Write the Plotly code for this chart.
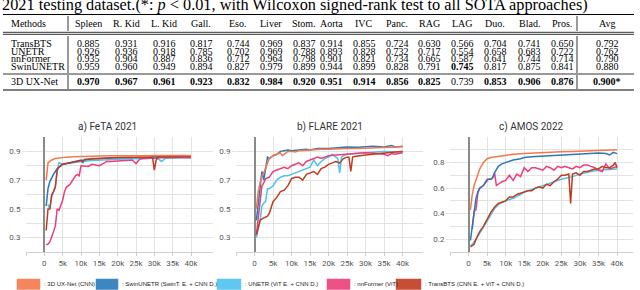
import plotly.graph_objects as go

W, H = 640, 290

# ---------------- table data ----------------
methods = ["TransBTS", "UNETR", "nnFormer", "SwinUNETR", "3D UX-Net"]
columns = ["Spleen", "R. Kid", "L. Kid", "Gall.", "Eso.", "Liver", "Stom.", "Aorta",
           "IVC", "Panc.", "RAG", "LAG", "Duo.", "Blad.", "Pros.", "Avg"]
vals_transbts = [0.885, 0.931, 0.916, 0.817, 0.744, 0.969, 0.837, 0.914, 0.855, 0.724, 0.630, 0.566, 0.704, 0.741, 0.650, 0.792]
vals_unetr = [0.926, 0.936, 0.918, 0.785, 0.702, 0.969, 0.788, 0.893, 0.828, 0.732, 0.717, 0.554, 0.658, 0.683, 0.722, 0.762]
vals_nnformer = [0.935, 0.904, 0.887, 0.836, 0.712, 0.964, 0.798, 0.901, 0.821, 0.734, 0.665, 0.587, 0.641, 0.744, 0.714, 0.790]
vals_swinunetr = [0.959, 0.960, 0.949, 0.894, 0.827, 0.979, 0.899, 0.944, 0.899, 0.828, 0.791, 0.745, 0.817, 0.875, 0.841, 0.880]
vals_uxnet = [0.970, 0.967, 0.961, 0.923, 0.832, 0.984, 0.920, 0.951, 0.914, 0.856, 0.825, 0.739, 0.853, 0.906, 0.876, 0.900]
title_text = "2021 testing dataset.(*: <i>p</i> &lt; 0.01, with Wilcoxon signed-rank test to all SOTA approaches)"

# ---------------- curve data ----------------
colors = {"uxnet": "#F5784C", "swin": "#2A79B9", "unetr": "#4DC3F0", "nnf": "#EC3F79", "trans": "#C23B20"}
chart_titles = ["a) FeTA 2021", "b) FLARE 2021", "c) AMOS 2022"]
xtick_vals = [-5000, 0, 5000, 10000, 15000, 20000, 25000, 30000, 35000, 40000]
xtick_text = ["", "0", "5k", "10k", "15k", "20k", "25k", "30k", "35k", "40k"]

# FeTA
feta_uxnet_x = [500, 1000, 1500, 2000, 3000, 4000, 5000, 6000, 8000, 10000, 12000, 15000, 18000, 20000, 22000, 25000, 28000, 30000, 33000, 35000, 38000, 40000]
feta_uxnet_y = [0.70, 0.82, 0.83, 0.84, 0.85, 0.855, 0.86, 0.86, 0.862, 0.865, 0.866, 0.868, 0.87, 0.869, 0.87, 0.871, 0.87, 0.872, 0.871, 0.872, 0.871, 0.872]
feta_swin_x = [500, 1000, 1500, 2000, 2500, 3000, 3500, 4000, 5000, 6000, 7000, 8000, 9000, 10000, 10500, 11000, 12000, 13000, 15000, 17000, 20000, 22000, 25000, 28000, 30000, 33000, 35000, 38000, 40000]
feta_swin_y = [0.52, 0.64, 0.69, 0.72, 0.74, 0.76, 0.78, 0.79, 0.81, 0.815, 0.82, 0.83, 0.835, 0.84, 0.82, 0.845, 0.845, 0.85, 0.85, 0.855, 0.858, 0.855, 0.86, 0.86, 0.862, 0.863, 0.862, 0.865, 0.865]
feta_unetr_x = [1000, 1500, 2000, 2500, 3000, 3500, 4000, 5000, 6000, 8000, 10000, 12000, 15000, 18000, 20000, 23000, 25000, 28000, 30000, 31000, 32000, 33000, 35000, 38000, 40000]
feta_unetr_y = [0.53, 0.50, 0.58, 0.62, 0.66, 0.76, 0.82, 0.81, 0.815, 0.82, 0.83, 0.835, 0.84, 0.842, 0.845, 0.848, 0.85, 0.852, 0.853, 0.85, 0.83, 0.852, 0.855, 0.856, 0.855]
feta_nnf_x = [500, 1000, 1500, 2000, 2500, 3000, 3500, 4000, 4500, 5000, 5500, 6000, 7000, 8000, 8500, 9000, 9500, 10000, 11000, 12000, 13000, 14000, 15000, 16000, 17000, 18000, 20000, 22000, 24000, 25000, 26000, 27000, 30000, 33000, 35000, 38000, 40000]
feta_nnf_y = [0.25, 0.255, 0.27, 0.30, 0.34, 0.38, 0.50, 0.49, 0.52, 0.56, 0.62, 0.65, 0.67, 0.71, 0.73, 0.74, 0.73, 0.80, 0.80, 0.795, 0.81, 0.805, 0.80, 0.815, 0.83, 0.83, 0.835, 0.84, 0.84, 0.815, 0.845, 0.85, 0.855, 0.86, 0.86, 0.858, 0.855]
feta_trans_x = [500, 1000, 1500, 2000, 2500, 3000, 3500, 4000, 5000, 6000, 8000, 10000, 12000, 15000, 18000, 20000, 22000, 25000, 28000, 29500, 30000, 30500, 31000, 33000, 35000, 38000, 40000]
feta_trans_y = [0.35, 0.50, 0.50, 0.60, 0.62, 0.65, 0.77, 0.79, 0.81, 0.815, 0.83, 0.84, 0.845, 0.85, 0.855, 0.858, 0.86, 0.86, 0.862, 0.86, 0.77, 0.84, 0.862, 0.864, 0.865, 0.866, 0.866]

# FLARE
flare_uxnet_x = [500, 1000, 1500, 2000, 2500, 3000, 3500, 4000, 5000, 6000, 7000, 7500, 8000, 9000, 10000, 11000, 12000, 14000, 16000, 18000, 20000, 22000, 25000, 28000, 30000, 33000, 35000, 38000, 40000]
flare_uxnet_y = [0.50, 0.62, 0.68, 0.73, 0.75, 0.79, 0.82, 0.85, 0.87, 0.88, 0.89, 0.87, 0.88, 0.90, 0.90, 0.895, 0.905, 0.91, 0.91, 0.915, 0.915, 0.918, 0.92, 0.92, 0.922, 0.925, 0.928, 0.93, 0.932]
flare_swin_x = [500, 1000, 1500, 2000, 2500, 3000, 3500, 4000, 5000, 6000, 7000, 8000, 9000, 10000, 12000, 14000, 15000, 17000, 20000, 23000, 25000, 28000, 30000, 32000, 35000, 37000, 38000, 40000]
flare_swin_y = [0.42, 0.54, 0.66, 0.76, 0.70, 0.80, 0.86, 0.85, 0.87, 0.88, 0.90, 0.905, 0.91, 0.905, 0.91, 0.915, 0.91, 0.92, 0.92, 0.925, 0.93, 0.928, 0.93, 0.935, 0.93, 0.94, 0.93, 0.935]
flare_unetr_x = [500, 1000, 1500, 2000, 2500, 3000, 3500, 4000, 5000, 6000, 7000, 8000, 9000, 10000, 11000, 12000, 13000, 14000, 15000, 16000, 17000, 18000, 19000, 20000, 21000, 22000, 22500, 23000, 23500, 24000, 25000, 27000, 30000, 33000, 35000, 38000, 40000]
flare_unetr_y = [0.30, 0.36, 0.42, 0.52, 0.54, 0.55, 0.64, 0.64, 0.66, 0.70, 0.72, 0.73, 0.73, 0.74, 0.75, 0.76, 0.77, 0.78, 0.79, 0.84, 0.80, 0.83, 0.85, 0.86, 0.88, 0.86, 0.85, 0.75, 0.86, 0.87, 0.88, 0.885, 0.89, 0.895, 0.90, 0.895, 0.90]
flare_nnf_x = [500, 1000, 1500, 2000, 2500, 3000, 4000, 5000, 6000, 7000, 8000, 9000, 10000, 11000, 12000, 13000, 14000, 15000, 16000, 17000, 18000, 20000, 22000, 25000, 28000, 30000, 33000, 35000, 36000, 37000, 38000, 40000]
flare_nnf_y = [0.32, 0.44, 0.58, 0.66, 0.68, 0.71, 0.72, 0.76, 0.77, 0.78, 0.79, 0.78, 0.80, 0.81, 0.82, 0.80, 0.83, 0.84, 0.85, 0.86, 0.85, 0.87, 0.875, 0.88, 0.885, 0.89, 0.885, 0.88, 0.87, 0.885, 0.88, 0.89]
flare_trans_x = [500, 1000, 1500, 2000, 3000, 3500, 4000, 5000, 6000, 7000, 8000, 9000, 10000, 11000, 12000, 13000, 14000, 15000, 16000, 17000, 18000, 19000, 20000, 21000, 22000, 23000, 24000, 25000, 25500, 26000, 26500, 27000, 28000, 30000, 32000, 35000, 38000, 40000]
flare_trans_y = [0.32, 0.38, 0.42, 0.43, 0.44, 0.45, 0.47, 0.55, 0.58, 0.62, 0.63, 0.66, 0.71, 0.72, 0.72, 0.70, 0.74, 0.75, 0.76, 0.74, 0.78, 0.79, 0.81, 0.82, 0.83, 0.82, 0.85, 0.86, 0.86, 0.76, 0.86, 0.865, 0.87, 0.875, 0.88, 0.89, 0.895, 0.90]

# AMOS
amos_uxnet_x = [500, 1000, 1500, 2000, 3000, 4000, 5000, 6000, 7000, 8000, 9000, 10000, 12000, 15000, 18000, 20000, 23000, 25000, 28000, 30000, 33000, 35000, 38000, 40000]
amos_uxnet_y = [0.43, 0.55, 0.62, 0.67, 0.75, 0.80, 0.83, 0.84, 0.845, 0.85, 0.85, 0.86, 0.865, 0.87, 0.875, 0.88, 0.882, 0.885, 0.887, 0.89, 0.893, 0.895, 0.897, 0.90]
amos_swin_x = [500, 1000, 1500, 2000, 2500, 3000, 3500, 4000, 5000, 5500, 6000, 6500, 7000, 8000, 9000, 10000, 11000, 12000, 14000, 15000, 17000, 20000, 23000, 25000, 28000, 30000, 33000, 35000, 37000, 38000, 39000, 40000]
amos_swin_y = [0.19, 0.30, 0.42, 0.52, 0.57, 0.60, 0.61, 0.62, 0.66, 0.67, 0.67, 0.68, 0.72, 0.77, 0.79, 0.80, 0.81, 0.82, 0.83, 0.84, 0.845, 0.85, 0.855, 0.86, 0.865, 0.87, 0.872, 0.875, 0.87, 0.86, 0.88, 0.87]
amos_unetr_x = [500, 1000, 2000, 3000, 4000, 5000, 6000, 7000, 8000, 9000, 10000, 12000, 14000, 15000, 17000, 20000, 22000, 25000, 28000, 30000, 33000, 35000, 38000, 40000]
amos_unetr_y = [0.15, 0.16, 0.20, 0.25, 0.30, 0.34, 0.39, 0.44, 0.47, 0.49, 0.50, 0.52, 0.55, 0.57, 0.59, 0.62, 0.64, 0.67, 0.69, 0.71, 0.73, 0.74, 0.745, 0.75]
amos_nnf_x = [1000, 1500, 2000, 2500, 3000, 4000, 5000, 6000, 6500, 7000, 7500, 8000, 9000, 10000, 11000, 12000, 13000, 14000, 15000, 16000, 17000, 18000, 19000, 20000, 21000, 22000, 23000, 24000, 25000, 26000, 27000, 28000, 29000, 30000, 31000, 32000, 33000, 34000, 35000, 36000, 37000, 38000, 39000, 40000]
amos_nnf_y = [0.28, 0.42, 0.43, 0.56, 0.60, 0.62, 0.67, 0.67, 0.68, 0.72, 0.62, 0.63, 0.65, 0.66, 0.70, 0.66, 0.71, 0.69, 0.76, 0.73, 0.76, 0.76, 0.75, 0.74, 0.77, 0.76, 0.74, 0.77, 0.76, 0.77, 0.76, 0.75, 0.77, 0.76, 0.78, 0.78, 0.77, 0.76, 0.74, 0.73, 0.79, 0.75, 0.76, 0.77]
amos_trans_x = [500, 1000, 1500, 2000, 3000, 4000, 5000, 6000, 7000, 8000, 9000, 10000, 11000, 12000, 13000, 14000, 15000, 16000, 17000, 18000, 19000, 20000, 21000, 22000, 23000, 24000, 25000, 26000, 27000, 27500, 28000, 29000, 30000, 31000, 32000, 33000, 34000, 35000, 36000, 37000, 38000, 39000, 39500, 40000]
amos_trans_y = [0.14, 0.15, 0.16, 0.20, 0.26, 0.30, 0.36, 0.41, 0.45, 0.48, 0.49, 0.50, 0.53, 0.53, 0.55, 0.56, 0.57, 0.58, 0.58, 0.60, 0.61, 0.60, 0.63, 0.62, 0.65, 0.67, 0.70, 0.70, 0.71, 0.48, 0.71, 0.72, 0.70, 0.73, 0.73, 0.74, 0.75, 0.75, 0.77, 0.76, 0.76, 0.78, 0.80, 0.76]

legend_labels = [": 3D UX-Net (CNN)", ": SwinUNETR (SwinT. E. + CNN D.)", ": UNETR (ViT E. + CNN D.)",
                 ": nnFormer (ViT)", ": TransBTS (CNN E. + ViT + CNN D.)"]
legend_keys = ["uxnet", "swin", "unetr", "nnf", "trans"]


def px(x):
    return x / W


def py(y):
    return 1 - y / H


fig = go.Figure()
annotations = []
shapes = []

# ---------------- title + table ----------------
annotations.append(dict(x=px(0), y=py(4), xref="paper", yref="paper", xanchor="left", yanchor="middle",
                        text=title_text, showarrow=False,
                        font=dict(family="Liberation Serif", size=16.3, color="black")))

rule_l, rule_r = 3, 634
for yy, wdt in [(14.5, 1.0), (32.3, 0.8), (34.3, 0.8), (74, 0.8), (90, 1.0)]:
    shapes.append(dict(type="line", xref="paper", yref="paper", x0=px(rule_l), x1=px(rule_r),
                       y0=py(yy), y1=py(yy), line=dict(color="black", width=wdt)))
for sx in [68, 577]:
    for (a, b) in [(16, 31), (36, 73), (75, 89)]:
        shapes.append(dict(type="line", xref="paper", yref="paper", x0=px(sx), x1=px(sx),
                           y0=py(a), y1=py(b), line=dict(color="black", width=0.8)))

col_x = [88, 126, 164, 201, 238, 271, 304, 331, 364, 397, 429, 462, 495, 529, 562, 607]
row_y = [43.3, 51.0, 58.7, 66.5, 81.7]
header_y = 24
tfont = dict(family="Liberation Serif", size=10, color="black")
annotations.append(dict(x=px(9), y=py(header_y), xref="paper", yref="paper", xanchor="left", yanchor="middle",
                        text="Methods", showarrow=False, font=tfont))
for cx, c in zip(col_x, columns):
    annotations.append(dict(x=px(cx), y=py(header_y), xref="paper", yref="paper", xanchor="center",
                            yanchor="middle", text=c, showarrow=False, font=tfont))
rows = [vals_transbts, vals_unetr, vals_nnformer, vals_swinunetr, vals_uxnet]
col_max = [max(r[j] for r in rows) for j in range(len(columns))]
for i, (m, r) in enumerate(zip(methods, rows)):
    annotations.append(dict(x=px(9), y=py(row_y[i]), xref="paper", yref="paper", xanchor="left",
                            yanchor="middle", text=m, showarrow=False, font=tfont))
    for j, v in enumerate(r):
        s = f"{v:.3f}"
        if m == "3D UX-Net" and columns[j] == "Avg":
            s += "*"
        if v == col_max[j]:
            s = "<b>" + s + "</b>"
        annotations.append(dict(x=px(col_x[j]), y=py(row_y[i]), xref="paper", yref="paper",
                                xanchor="center", yanchor="middle", text=s, showarrow=False, font=tfont))

# ---------------- charts ----------------
chart_data = [
    {"uxnet": (feta_uxnet_x, feta_uxnet_y), "swin": (feta_swin_x, feta_swin_y), "unetr": (feta_unetr_x, feta_unetr_y),
     "nnf": (feta_nnf_x, feta_nnf_y), "trans": (feta_trans_x, feta_trans_y)},
    {"uxnet": (flare_uxnet_x, flare_uxnet_y), "swin": (flare_swin_x, flare_swin_y), "unetr": (flare_unetr_x, flare_unetr_y),
     "nnf": (flare_nnf_x, flare_nnf_y), "trans": (flare_trans_x, flare_trans_y)},
    {"uxnet": (amos_uxnet_x, amos_uxnet_y), "swin": (amos_swin_x, amos_swin_y), "unetr": (amos_unetr_x, amos_unetr_y),
     "nnf": (amos_nnf_x, amos_nnf_y), "trans": (amos_trans_x, amos_trans_y)},
]
draw_order = ["unetr", "nnf", "swin", "trans", "uxnet"]
x_domains = [(26, 213), (236, 423), (450, 633)]
x_ranges = [[-5000, 46000], [-5000, 45500], [-5000, 44300]]
y_ranges = [[0.2, 1.0], [0.2, 1.0], [0.1, 1.0]]
y_ticks = [[0.3, 0.5, 0.7, 0.9], [0.3, 0.5, 0.7, 0.9], [0.2, 0.4, 0.6, 0.8]]
title_cx = [107, 330, 531]
plot_top, plot_bot = 137, 252
grid_c = "#e3e3e3"

for k in range(3):
    sfx = "" if k == 0 else str(k + 1)
    for key in draw_order:
        xs, ys = chart_data[k][key]
        fig.add_trace(go.Scatter(x=xs, y=ys, mode="lines", line=dict(color=colors[key], width=1.5),
                                 xaxis="x" + sfx, yaxis="y" + sfx, showlegend=False, hoverinfo="skip"))
    fig.layout["xaxis" + sfx] = dict(domain=[px(x_domains[k][0]), px(x_domains[k][1])], range=x_ranges[k],
                                     anchor="y" + sfx, tickvals=xtick_vals, ticktext=xtick_text,
                                     showgrid=True, gridcolor=grid_c, gridwidth=1,
                                     zeroline=True, zerolinecolor="#8a8a8a", zerolinewidth=1.5,
                                     showline=True, linecolor="#d0d0d0", ticks="outside", ticklen=3,
                                     tickcolor="#d0d0d0", tickfont=dict(family="Roboto", size=8, color="#555"))
    fig.layout["yaxis" + sfx] = dict(domain=[py(plot_bot), py(plot_top)], range=y_ranges[k], anchor="x" + sfx,
                                     tickvals=y_ticks[k], ticktext=[f"{t:.1f}" for t in y_ticks[k]],
                                     showgrid=True, gridcolor=grid_c, zeroline=False,
                                     ticks="outside", ticklen=3, tickcolor=grid_c,
                                     minor=dict(tick0=0, dtick=0.1, showgrid=True, gridcolor=grid_c),
                                     tickfont=dict(family="Roboto", size=8, color="#555"))
    annotations.append(dict(x=px(title_cx[k]), y=py(127), xref="paper", yref="paper", xanchor="center",
                            yanchor="middle", text=chart_titles[k], showarrow=False,
                            font=dict(family="Roboto", size=10, color="#333")))

# ---------------- legend ----------------
sw_x = [(17, 40), (96, 118), (217, 241), (327, 350), (396, 421)]
txt_x = [42, 120, 243, 352, 423]
for (a, b), tx, key, lab in zip(sw_x, txt_x, legend_keys, legend_labels):
    shapes.append(dict(type="rect", xref="paper", yref="paper", x0=px(a), x1=px(b), y0=py(289.5), y1=py(279),
                       fillcolor=colors[key], line=dict(color=colors[key], width=0.5), opacity=0.9))
    annotations.append(dict(x=px(tx), y=py(284.3), xref="paper", yref="paper", xanchor="left", yanchor="middle",
                            text=lab, showarrow=False, font=dict(family="Liberation Sans", size=6.0, color="#222")))

fig.update_layout(width=W, height=H, margin=dict(l=0, r=0, t=0, b=0), paper_bgcolor="white",
                  plot_bgcolor="white", showlegend=False, annotations=annotations, shapes=shapes)
fig.write_html("out.html", config={"displayModeBar": False},
               post_script="document.body.style.margin='0';document.body.style.overflow='hidden';")
